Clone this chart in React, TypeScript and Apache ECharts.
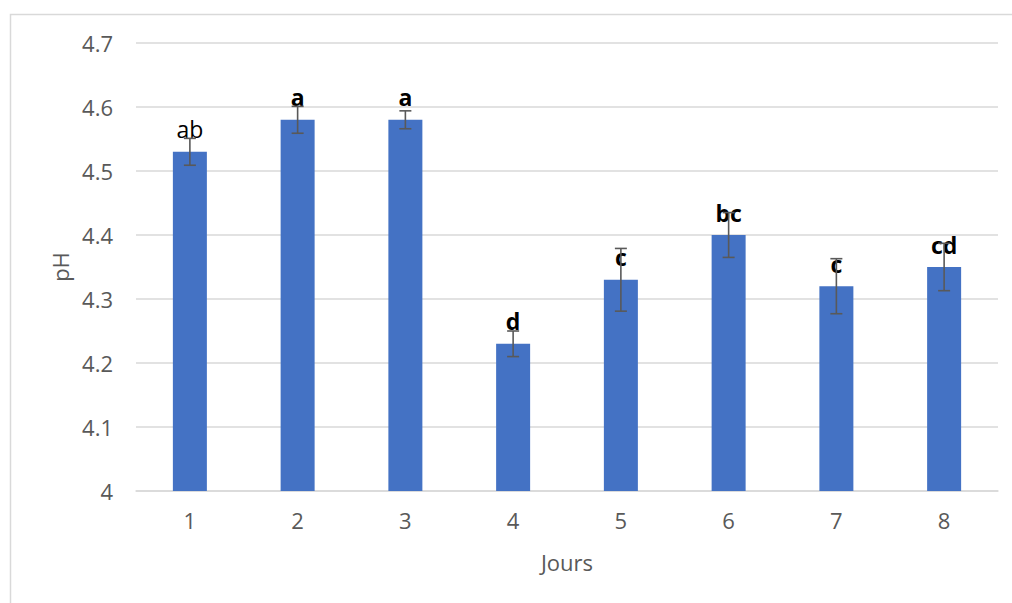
import React, { useEffect, useRef } from "react";
import * as echarts from "echarts";

const categories = ["1", "2", "3", "4", "5", "6", "7", "8"];
const phValues = [4.53, 4.58, 4.58, 4.23, 4.33, 4.4, 4.32, 4.35];
const errors = [0.021, 0.021, 0.014, 0.02, 0.049, 0.035, 0.043, 0.037];
const letters = ["ab", "a", "a", "d", "c", "bc", "c", "cd"];
const boldLetters = [false, true, true, true, true, true, true, true];

const FONT = "'Open Sans', 'Noto Sans', sans-serif";

export default function App() {
  const ref = useRef<HTMLDivElement>(null);
  useEffect(() => {
    if (!ref.current) return;
    const chart = echarts.init(ref.current, null, { renderer: "svg" });
    const errData = phValues.map((v, i) => [i, v - errors[i], v + errors[i]]);
    chart.setOption({
      animation: false,
      backgroundColor: "#ffffff",
      graphic: [
        {
          type: "rect",
          shape: { x: 10.5, y: 14.5, width: 1020, height: 620 },
          style: { fill: "none", stroke: "#d9d9d9", lineWidth: 1.5 },
          silent: true,
        },
      ],
      grid: { left: 136, right: 14, top: 43, bottom: 112 },
      xAxis: {
        type: "category",
        data: categories,
        axisTick: { show: false },
        axisLine: { lineStyle: { color: "#d9d9d9", width: 1.5 } },
        axisLabel: { color: "#595959", fontSize: 22, fontFamily: FONT, margin: 18 },
        name: "Jours",
        nameLocation: "middle",
        nameGap: 60,
        nameTextStyle: { color: "#595959", fontSize: 22, fontFamily: FONT },
      },
      yAxis: {
        type: "value",
        min: 4,
        max: 4.7,
        interval: 0.1,
        axisLine: { show: false },
        axisTick: { show: false },
        splitLine: { lineStyle: { color: "#d9d9d9", width: 1.5 } },
        axisLabel: {
          color: "#595959",
          fontSize: 22,
          fontFamily: FONT,
          margin: 23,
          formatter: (v: number) => (Math.round(v * 10) / 10).toString(),
        },
        name: "pH",
        nameLocation: "middle",
        nameGap: 60,
        nameTextStyle: { color: "#595959", fontSize: 22, fontFamily: FONT },
      },
      series: [
        {
          type: "bar",
          barWidth: 34,
          itemStyle: { color: "#4472C4" },
          data: phValues.map((v, i) => ({
            value: v,
            label: {
              show: true,
              position: "top",
              distance: 11,
              formatter: letters[i],
              color: "#000000",
              fontSize: 23,
              fontFamily: FONT,
              fontWeight: boldLetters[i] ? "bold" : "normal",
            },
          })),
          z: 2,
        },
        {
          type: "custom",
          z: 3,
          data: errData,
          renderItem: (params: any, api: any) => {
            const x = api.value(0);
            const lo = api.coord([x, api.value(1)]);
            const hi = api.coord([x, api.value(2)]);
            const cap = 6;
            const style = { stroke: "#595959", lineWidth: 1.6 };
            return {
              type: "group",
              children: [
                { type: "line", shape: { x1: lo[0], y1: lo[1], x2: hi[0], y2: hi[1] }, style },
                { type: "line", shape: { x1: lo[0] - cap, y1: lo[1], x2: lo[0] + cap, y2: lo[1] }, style },
                { type: "line", shape: { x1: hi[0] - cap, y1: hi[1], x2: hi[0] + cap, y2: hi[1] }, style },
              ],
            };
          },
        },
      ],
    });
    return () => chart.dispose();
  }, []);
  return (
    <div
      ref={ref}
      style={{ position: "fixed", left: 0, top: 0, width: 1012, height: 603 }}
    />
  );
}
